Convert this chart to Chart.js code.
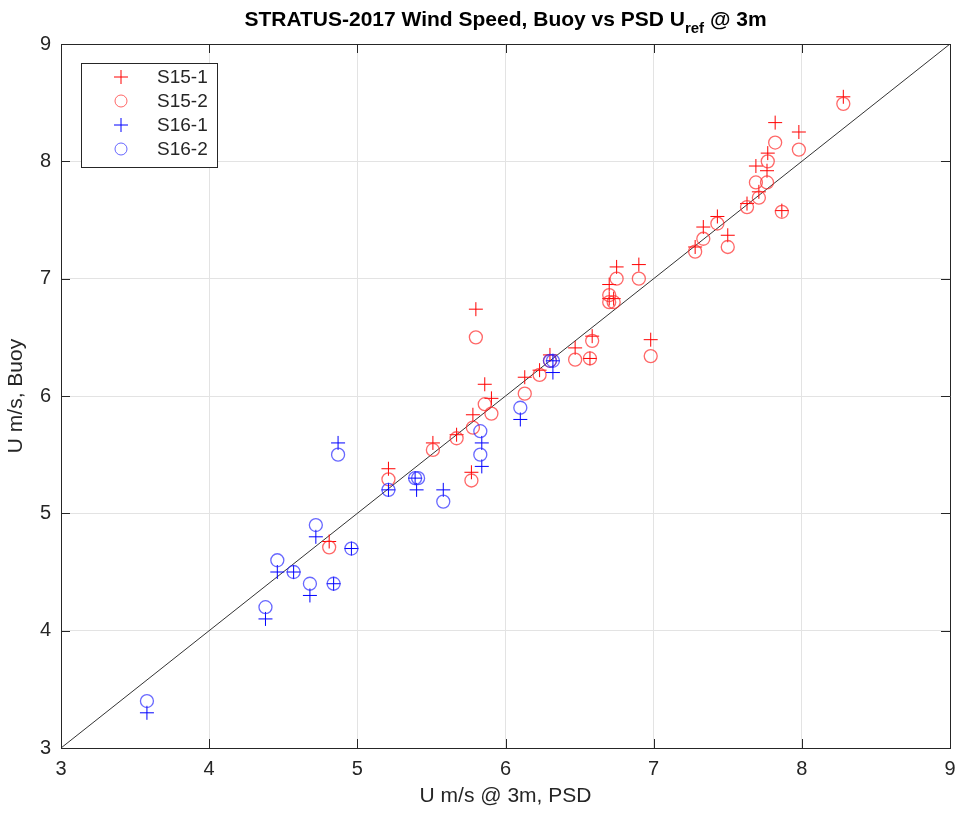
<!DOCTYPE html>
<html>
<head>
<meta charset="utf-8">
<script src="https://cdn.jsdelivr.net/npm/chart.js@4/dist/chart.umd.min.js"></script>
<style>
  html, body { margin: 0; padding: 0; background: #fff; }
  #wrap { width: 961px; height: 813px; }
</style>
</head>
<body>
<div id="wrap"><canvas id="chart" width="961" height="813"></canvas></div>
<script>
// PSD wind speed (x) and buoy wind speed (y)
var s15x = [4.81, 5.21, 5.51, 5.67, 5.78, 5.77, 5.86, 5.905, 5.80, 6.13, 6.23, 6.30, 6.47, 6.57, 6.585, 6.98,
            6.70, 6.70, 6.73, 6.75, 6.90, 7.28, 7.335, 7.43, 7.50, 7.63, 7.71, 7.69, 7.765, 7.77, 7.82, 7.865, 7.98, 8.28]
var s15_1 = [4.76, 5.38, 5.60, 5.67, 5.84, 5.35, 6.10, 5.98, 6.74, 6.16, 6.22, 6.35, 6.41, 6.32, 6.51, 6.48,
             6.95, 6.83, 6.83, 7.10, 7.12, 7.27, 7.44, 7.53, 7.37, 7.64, 7.74, 7.96, 7.92, 8.07, 8.33, 7.58, 8.25, 8.55]
var s15_2 = [4.71, 5.29, 5.54, 5.64, 5.73, 5.28, 5.93, 5.85, 6.50, 6.02, 6.18, 6.30, 6.31, 6.32, 6.47, 6.34,
             6.86, 6.80, 6.80, 7.00, 7.00, 7.23, 7.34, 7.47, 7.27, 7.61, 7.69, 7.82, 7.82, 8.00, 8.16, 7.57, 8.10, 8.49]

var s16_1x = [3.58, 4.38, 4.46, 4.57, 4.68, 4.72, 4.84, 4.96, 4.87, 5.21, 5.39, 5.40, 5.58, 5.84, 5.84, 6.10, 6.32, 6.32]
var s16_1 = [3.3, 4.1, 4.5, 4.5, 4.3, 4.8, 4.4, 4.7, 5.6, 5.2, 5.3, 5.2, 5.2, 5.4, 5.6, 5.8, 6.3, 6.2]
var s16_2x = [3.58, 4.38, 4.46, 4.57, 4.68, 4.72, 4.84, 4.96, 4.87, 5.21, 5.39, 5.41, 5.58, 5.83, 5.83, 6.10, 6.30, 6.32]
var s16_2 = [3.4, 4.2, 4.6, 4.5, 4.4, 4.9, 4.4, 4.7, 5.5, 5.2, 5.3, 5.3, 5.1, 5.5, 5.7, 5.9, 6.3, 6.3]

var oneToOne = [3, 9]
var xTicks = [3, 4, 5, 6, 7, 8, 9]
var yTicks = [3, 4, 5, 6, 7, 8, 9]

var seriesNames = ["S15-1", "S15-2", "S16-1", "S16-2"]

function pts(xs, ys) {
    var out = []
    for (var i = 0; i < xs.length; i++) out.push({x: xs[i], y: ys[i]})
    return out
}

var FONT = "'Liberation Sans', Arial, sans-serif"
var TXT = '#262626'

var red = 'rgba(255, 0, 0, 1)'
var redO = 'rgba(255, 40, 40, 0.7)'
var blue = 'rgba(0, 0, 255, 1)'
var blueO = 'rgba(40, 40, 255, 0.7)'

// title with subscript + legend box + box frame and inner ticks
var extras = {
    id: 'extras',
    afterDraw: function(chart) {
        var ctx = chart.ctx
        var a = chart.chartArea
        ctx.save()
        ctx.strokeStyle = TXT
        ctx.lineWidth = 1
        // top and right edges of the box
        var R = Math.round(a.right) + 0.5, T = Math.round(a.top) + 0.5
        ctx.beginPath()
        ctx.moveTo(a.left, T); ctx.lineTo(R, T); ctx.lineTo(R, a.bottom)
        ctx.stroke()
        // inner tick marks
        var xs = chart.scales.x, ys = chart.scales.y
        xTicks.forEach(function(v) {
            var px = Math.round(xs.getPixelForValue(v)) + 0.5
            ctx.beginPath()
            ctx.moveTo(px, a.bottom); ctx.lineTo(px, a.bottom - 9)
            ctx.moveTo(px, a.top); ctx.lineTo(px, a.top + 9)
            ctx.stroke()
        })
        yTicks.forEach(function(v) {
            var py = Math.round(ys.getPixelForValue(v)) + 0.5
            ctx.beginPath()
            ctx.moveTo(a.left, py); ctx.lineTo(a.left + 9, py)
            ctx.moveTo(a.right, py); ctx.lineTo(a.right - 9, py)
            ctx.stroke()
        })

        // title
        ctx.fillStyle = 'black'
        ctx.textBaseline = 'alphabetic'
        var t1 = 'STRATUS-2017 Wind Speed, Buoy vs PSD U'
        var t2 = 'ref'
        var t3 = ' @ 3m'
        ctx.font = 'bold 21px ' + FONT
        var w1 = ctx.measureText(t1).width
        var w3 = ctx.measureText(t3).width
        ctx.font = 'bold 15px ' + FONT
        var w2 = ctx.measureText(t2).width
        var x0 = (a.left + a.right) / 2 - (w1 + w2 + w3) / 2
        ctx.font = 'bold 21px ' + FONT
        ctx.textAlign = 'left'
        ctx.fillText(t1, x0, 26)
        ctx.font = 'bold 15px ' + FONT
        ctx.fillText(t2, x0 + w1, 33)
        ctx.font = 'bold 21px ' + FONT
        ctx.fillText(t3, x0 + w1 + w2, 26)

        // legend
        var lx = 81, ly = 63, lw = 136, lh = 104
        ctx.fillStyle = 'white'
        ctx.fillRect(lx, ly, lw, lh)
        ctx.strokeStyle = TXT
        ctx.strokeRect(lx + 0.5, ly + 0.5, lw, lh)
        var styles = [
            {c: red, s: 'cross'}, {c: redO, s: 'circle'},
            {c: blue, s: 'cross'}, {c: blueO, s: 'circle'}
        ]
        ctx.font = '19px ' + FONT
        for (var i = 0; i < 4; i++) {
            var cy = 77 + i * 24
            ctx.strokeStyle = styles[i].c
            ctx.lineWidth = 1
            ctx.beginPath()
            if (styles[i].s === 'cross') {
                ctx.moveTo(114, cy); ctx.lineTo(128, cy)
                ctx.moveTo(121, cy - 7); ctx.lineTo(121, cy + 7)
            } else {
                ctx.arc(121, cy, 6, 0, Math.PI * 2)
            }
            ctx.stroke()
            ctx.fillStyle = TXT
            ctx.textBaseline = 'middle'
            ctx.fillText(seriesNames[i], 157, cy + 1)
        }
        ctx.restore()
    }
}

var ctx = document.getElementById("chart").getContext('2d')
new Chart(ctx, {
    type: 'scatter',
    data: {
        datasets: [
            {
                label: seriesNames[0],
                data: pts(s15x, s15_1),
                pointStyle: 'cross',
                pointRadius: 7,
                pointHoverRadius: 7,
                borderColor: red,
                borderWidth: 1,
                order: 4
            },
            {
                label: seriesNames[1],
                data: pts(s15x, s15_2),
                pointStyle: 'circle',
                pointRadius: 6.5,
                pointHoverRadius: 6.5,
                borderColor: redO,
                backgroundColor: 'rgba(0,0,0,0)',
                borderWidth: 1.3,
                order: 3
            },
            {
                label: seriesNames[2],
                data: pts(s16_1x, s16_1),
                pointStyle: 'cross',
                pointRadius: 7,
                pointHoverRadius: 7,
                borderColor: blue,
                borderWidth: 1,
                order: 2
            },
            {
                label: seriesNames[3],
                data: pts(s16_2x, s16_2),
                pointStyle: 'circle',
                pointRadius: 6.5,
                pointHoverRadius: 6.5,
                borderColor: blueO,
                backgroundColor: 'rgba(0,0,0,0)',
                borderWidth: 1.3,
                order: 1
            },
            {
                label: '1:1',
                type: 'line',
                data: pts(oneToOne, oneToOne),
                borderColor: '#333333',
                borderWidth: 1,
                pointRadius: 0,
                showLine: true,
                order: 5
            }
        ]
    },
    options: {
        responsive: false,
        animation: false,
        events: [],
        layout: { padding: { top: 44, right: 11, left: 0, bottom: 0 } },
        plugins: {
            legend: { display: false },
            title: { display: false },
            tooltip: { enabled: false }
        },
        scales: {
            x: {
                type: 'linear',
                min: 3, max: 9,
                afterBuildTicks: function(s) { s.ticks = xTicks.map(function(v) { return {value: v} }) },
                afterFit: function(s) { s.height = 65; s.paddingLeft = 0; s.paddingRight = 0 },
                grid: { color: '#e3e3e3', drawTicks: false },
                border: { color: TXT, width: 1 },
                ticks: { color: TXT, font: { family: FONT, size: 20 }, padding: 9, maxRotation: 0 },
                title: { display: true, text: 'U m/s @ 3m, PSD', color: TXT, font: { family: FONT, size: 21 }, padding: { top: 0 } }
            },
            y: {
                type: 'linear',
                min: 3, max: 9,
                afterBuildTicks: function(s) { s.ticks = yTicks.map(function(v) { return {value: v} }) },
                afterFit: function(s) { s.width = 61; s.paddingTop = 0; s.paddingBottom = 0 },
                grid: { color: '#e3e3e3', drawTicks: false },
                border: { color: TXT, width: 1 },
                ticks: { color: TXT, font: { family: FONT, size: 20 }, padding: 10 },
                title: { display: true, text: 'U m/s, Buoy', color: TXT, font: { family: FONT, size: 21 }, padding: { bottom: 0 } }
            }
        }
    },
    plugins: [extras]
})
</script>
</body>
</html>
